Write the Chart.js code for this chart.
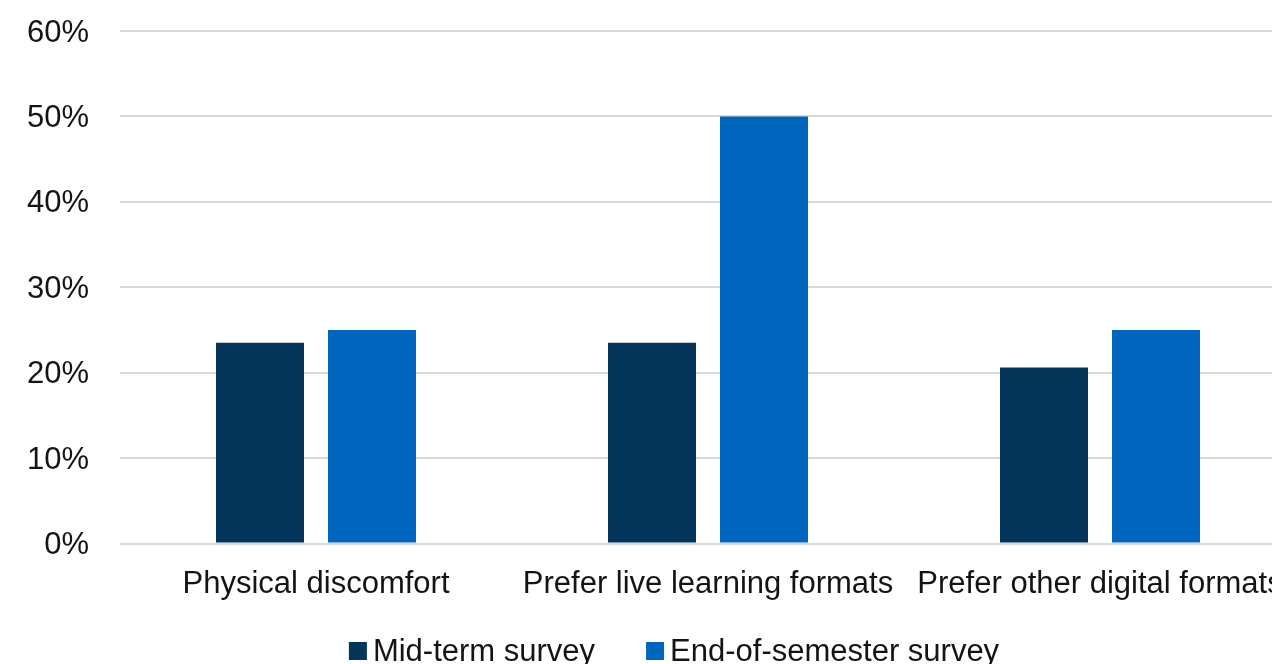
<!DOCTYPE html>
<html>
<head>
<meta charset="utf-8">
<title>Survey responses</title>
<script src="https://cdn.jsdelivr.net/npm/chart.js@4/dist/chart.umd.min.js"></script>
<style>
  html, body { margin: 0; padding: 0; background: #ffffff; overflow: hidden; }
  canvas { display: block; }
</style>
</head>
<body>
<canvas id="chart" width="1348" height="664"></canvas>
<script>
// Reasons reported, share of respondents (%)
const categories = ['Physical discomfort', 'Prefer live learning formats', 'Prefer other digital formats'];
const midTermSurvey = [23.5, 23.5, 20.6];
const endOfSemesterSurvey = [25, 50, 25];
const seriesNames = ['Mid-term survey', 'End-of-semester survey'];
const yTickMin = 0;
const yTickMax = 60;
const yTickStep = 10;

const FONT = "'Liberation Sans', Arial, Helvetica, sans-serif";
const FONT_SIZE = 31;
const TEXT = '#141414';

Chart.defaults.font.family = FONT;
Chart.defaults.font.size = FONT_SIZE;
Chart.defaults.color = TEXT;

// Legend drawn under the plot: small square swatch, tight gap, centred on the canvas.
const bottomLegend = {
  id: 'bottomLegend',
  afterDraw(chart) {
    const ctx = chart.ctx;
    const box = 18, gap = 6, itemGap = 51, yMid = 651;
    ctx.save();
    ctx.font = FONT_SIZE + 'px ' + FONT;
    ctx.textBaseline = 'middle';
    ctx.textAlign = 'left';
    const items = chart.data.datasets.map(ds => ({
      label: ds.label, color: ds.backgroundColor, w: ctx.measureText(ds.label).width
    }));
    const total = items.reduce((s, it) => s + box + gap + it.w, 0) + itemGap * (items.length - 1);
    let x = chart.width / 2 - total / 2;
    items.forEach(it => {
      ctx.fillStyle = it.color;
      ctx.fillRect(x, yMid - box / 2, box, box);
      ctx.fillStyle = TEXT;
      ctx.fillText(it.label, x + box + gap, yMid + 1);
      x += box + gap + it.w + itemGap;
    });
    ctx.restore();
  }
};

new Chart(document.getElementById('chart'), {
  type: 'bar',
  data: {
    labels: categories,
    datasets: [
      { label: seriesNames[0], data: midTermSurvey, backgroundColor: '#03345a', borderWidth: 0 },
      { label: seriesNames[1], data: endOfSemesterSurvey, backgroundColor: '#0066bd', borderWidth: 0 }
    ]
  },
  options: {
    responsive: false,
    animation: false,
    events: [],
    categoryPercentage: 0.5714,
    barPercentage: 0.7857,
    layout: { padding: { top: 31, right: 52, bottom: 0, left: 0 } },
    plugins: {
      legend: { display: false },
      tooltip: { enabled: false }
    },
    scales: {
      x: {
        grid: { display: false, drawTicks: false },
        border: { display: false },
        ticks: { padding: 22, autoSkip: false, maxRotation: 0, minRotation: 0, color: TEXT },
        afterFit(scale) { scale.height = 120.5; }
      },
      y: {
        min: yTickMin,
        max: yTickMax,
        grid: { color: '#d9d9d9', lineWidth: 2, drawTicks: true, tickLength: 31, tickColor: 'rgba(0,0,0,0)' },
        border: { display: false },
        ticks: {
          stepSize: yTickStep,
          padding: 0,
          labelOffset: 2,
          color: TEXT,
          callback: v => v + '%'
        },
        afterFit(scale) { scale.width = 120; }
      }
    }
  },
  plugins: [bottomLegend]
});
</script>
</body>
</html>
